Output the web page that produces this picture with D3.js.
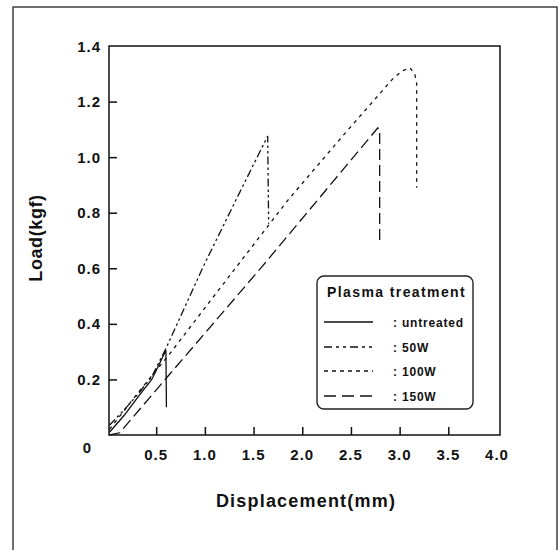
<!DOCTYPE html>
<html><head><meta charset="utf-8">
<script src="https://cdn.jsdelivr.net/npm/d3@7/dist/d3.min.js"></script>
<style>
html,body{margin:0;padding:0;background:#fff;}
svg{display:block;}
text{font-family:"Liberation Sans",Arial,sans-serif;font-weight:bold;fill:#111;}
</style></head>
<body><svg id="c" width="559" height="550"></svg>
<script>
// ---- data ----
const seriesNames = ["untreated", "50W", "100W", "150W"];
const legendLabels = [": untreated", ": 50W", ": 100W", ": 150W"];
const untreated = [[0.02,0.01],[0.17,0.07],[0.32,0.14],[0.455,0.2],[0.525,0.25],[0.6,0.305],[0.605,0.10]];
const w50 = [[0.02,0.035],[0.17,0.09],[0.32,0.15],[0.455,0.21],[0.605,0.315],[0.975,0.6],[1.325,0.85],[1.645,1.076],[1.655,0.76]];
const w100 = [[0.02,0.02],[0.32,0.155],[0.645,0.295],[1.225,0.56],[1.855,0.846],[2.425,1.08],[2.725,1.2],[2.925,1.28],[3.025,1.31],[3.105,1.322],[3.155,1.30],[3.175,1.265],[3.175,0.89]];
const w150 = [[0.02,0],[0.125,0.008],[0.605,0.205],[1.585,0.605],[2.775,1.105],[2.795,1.10],[2.795,0.70]];
const seriesData = [untreated, w50, w100, w150];
const xTickMarks = [0.5, 1.0, 1.5, 2.0, 2.5, 3.0, 3.5];
const xTickLabels = ["0.5","1.0","1.5","2.0","2.5","3.0","3.5","4.0"];
const yTickMarks = [0.2, 0.4, 0.6, 0.8, 1.0, 1.2];
const yTickLabels = ["0.2","0.4","0.6","0.8","1.0","1.2","1.4"];

// ---- styles ----
const dashes = [null, "8,3,2.5,3,2.5,3", "3.5,4.5", "11,5"];
const legendDashes = [null, "8,4,3,4,3,4", "4,4", "12,6"];

const svg = d3.select("#c");
const L = 109, R = 500, T = 46, B = 435;
const x = d3.scaleLinear().domain([0, 4]).range([107.5, 497]);
const y = d3.scaleLinear().domain([0, 1.4]).range([B, T]);

// outer frame
svg.append("rect").attr("x", 13).attr("y", 7).attr("width", 544).attr("height", 570)
  .attr("fill", "none").attr("stroke", "#333").attr("stroke-width", 1.4);

// plot frame
svg.append("rect").attr("x", L).attr("y", T).attr("width", R - L).attr("height", B - T)
  .attr("fill", "none").attr("stroke", "#111").attr("stroke-width", 1.5);

// x axis ticks (inward)
const xAxis = d3.axisBottom(x).tickValues(xTickMarks).tickSize(-8).tickFormat("");
const gx = svg.append("g").attr("transform", `translate(0,${B})`).call(xAxis);
gx.select(".domain").remove();
gx.selectAll("line").attr("stroke", "#111").attr("stroke-width", 1.5);

const yAxis = d3.axisLeft(y).tickValues(yTickMarks).tickSize(-8).tickFormat("");
const gy = svg.append("g").attr("transform", `translate(${L},0)`).call(yAxis);
gy.select(".domain").remove();
gy.selectAll("line").attr("stroke", "#111").attr("stroke-width", 1.5);

// tick labels
svg.append("g").selectAll("text").data(xTickLabels).join("text")
  .attr("x", d => x(+d)).attr("y", 460).attr("text-anchor", "middle")
  .attr("font-size", 15).attr("letter-spacing", 1).text(d => d);
svg.append("g").selectAll("text").data(yTickLabels).join("text")
  .attr("x", 101).attr("y", d => y(+d) + 5.5).attr("text-anchor", "end")
  .attr("font-size", 15).attr("letter-spacing", 1).text(d => d);
svg.append("text").attr("x", 87).attr("y", 453).attr("text-anchor", "middle")
  .attr("font-size", 15).text("0");

// axis titles
svg.append("text").attr("x", 306).attr("y", 507).attr("text-anchor", "middle")
  .attr("font-size", 18).attr("letter-spacing", 1.2).text("Displacement(mm)");
svg.append("text").attr("transform", "translate(42,238) rotate(-90)").attr("text-anchor", "middle")
  .attr("font-size", 18).attr("letter-spacing", 0.6).text("Load(kgf)");

// curves
const line = d3.line().x(d => x(d[0])).y(d => y(d[1]));
svg.append("g").selectAll("path").data(seriesData).join("path")
  .attr("d", d => line(d)).attr("fill", "none").attr("stroke", "#111")
  .attr("stroke-width", 1.3).attr("stroke-dasharray", (d, i) => dashes[i]);

// legend
const lg = svg.append("g");
lg.append("rect").attr("x", 317).attr("y", 276).attr("width", 156).attr("height", 133)
  .attr("rx", 7).attr("fill", "#fff").attr("stroke", "#222").attr("stroke-width", 1.4);
lg.append("text").attr("x", 327).attr("y", 297).attr("font-size", 14)
  .attr("letter-spacing", 1.4).text("Plasma treatment");
const rowY = [322, 347, 371, 396];
lg.selectAll("line.k").data(seriesNames).join("line").attr("class", "k")
  .attr("x1", 324).attr("x2", 373).attr("y1", (d, i) => rowY[i]).attr("y2", (d, i) => rowY[i])
  .attr("stroke", "#111").attr("stroke-width", 1.3).attr("stroke-dasharray", (d, i) => legendDashes[i]);
lg.selectAll("text.k").data(legendLabels).join("text").attr("class", "k")
  .attr("x", 393).attr("y", (d, i) => rowY[i] + 4.5).attr("font-size", 12)
  .attr("letter-spacing", 0.8).text(d => d);
</script></body></html>
